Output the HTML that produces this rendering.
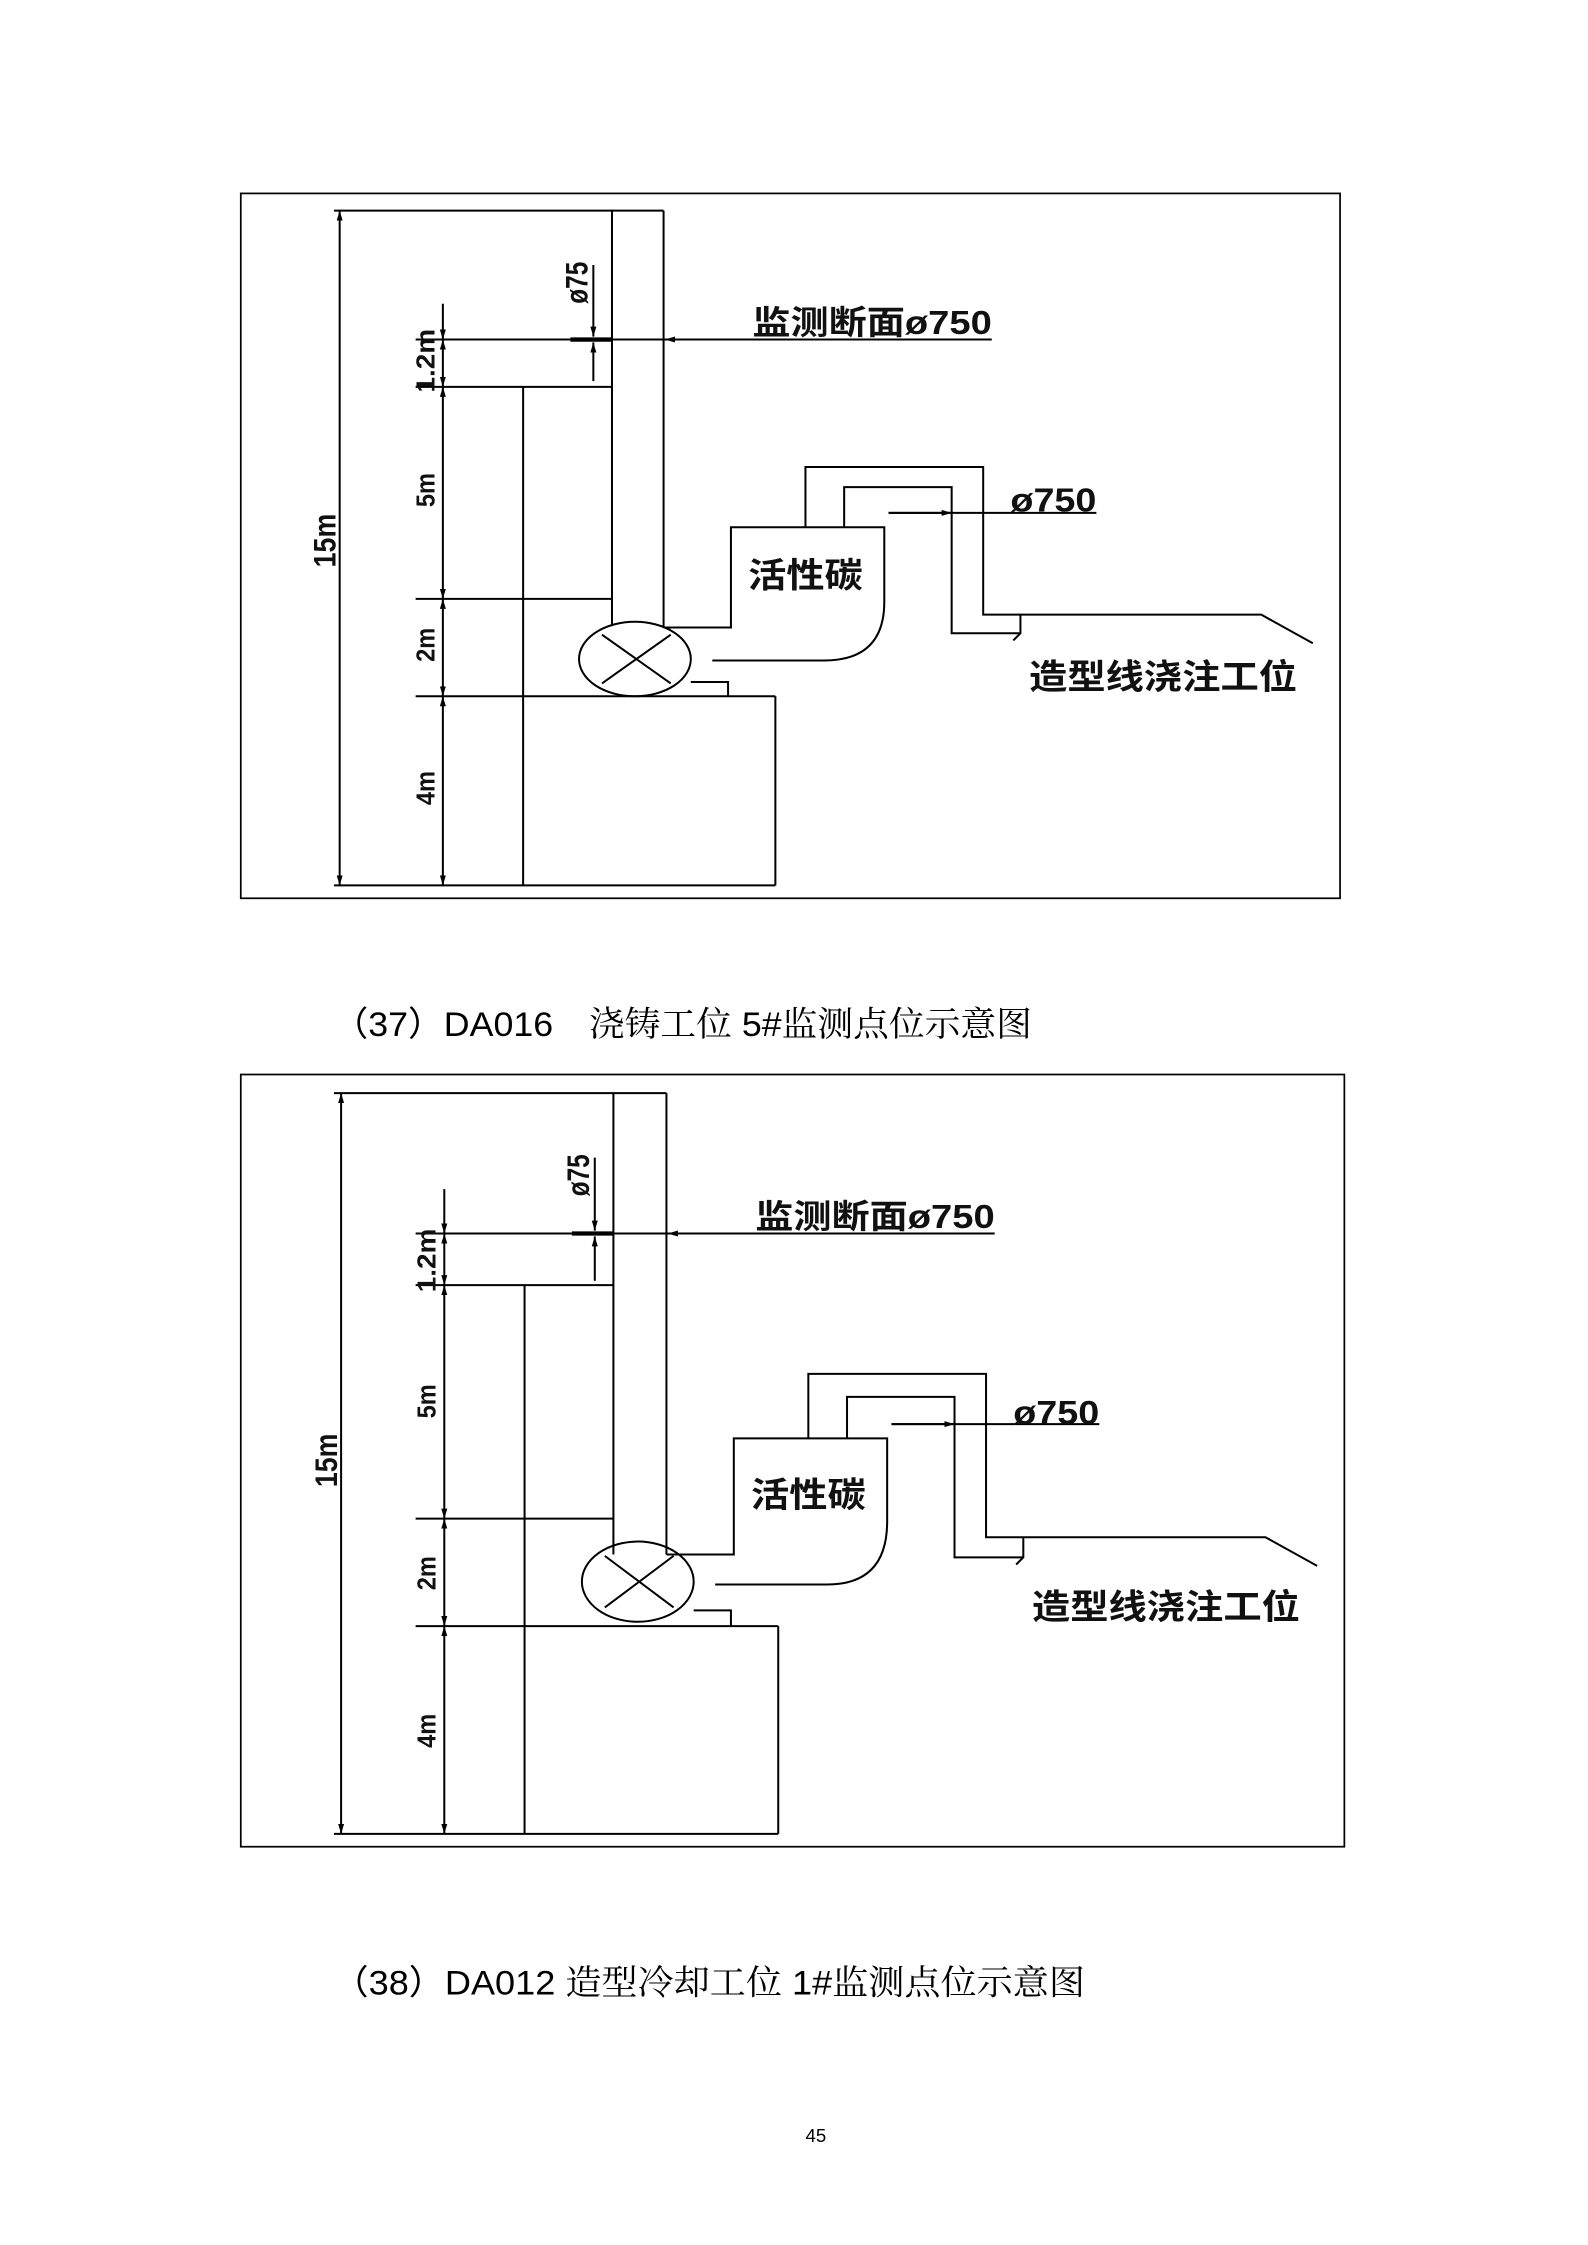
<!DOCTYPE html>
<html><head><meta charset="utf-8"><style>
html,body{margin:0;padding:0;background:#fff}
svg{display:block}
.l{stroke:#000;stroke-width:1.4;fill:none}
.f{stroke:#000;stroke-width:1.2;fill:none}
.b{font-family:"Liberation Sans","Noto Sans CJK SC",sans-serif;font-weight:bold;fill:#111}
.c{font-family:"Liberation Sans","Noto Sans CJK SC",sans-serif;fill:#000}
.cs{font-family:"Liberation Serif","Noto Serif CJK SC",serif;fill:#000}
</style></head><body>
<svg width="1588" height="2245" viewBox="0 0 1108 1567" preserveAspectRatio="none" xmlns="http://www.w3.org/2000/svg">
<defs>
<marker id="a" viewBox="0 0 10 10" refX="10" refY="5" markerWidth="7" markerHeight="7" orient="auto-start-reverse" markerUnits="userSpaceOnUse"><path d="M0,2 L10,5 L0,8 z" fill="#000"/></marker>
</defs>

<!-- Diagram 1 -->
<g>
<rect x="168" y="135" width="767" height="492" class="f"/>
<line x1="233" y1="147" x2="463" y2="147" class="l"/>
<line x1="427" y1="147" x2="427" y2="437" class="l"/>
<line x1="463" y1="147" x2="463" y2="438" class="l"/>
<line x1="237" y1="147" x2="237" y2="618" class="l" marker-start="url(#a)" marker-end="url(#a)"/>
<line x1="309" y1="212" x2="309" y2="237" class="l" marker-end="url(#a)"/>
<line x1="309" y1="237" x2="309" y2="270" class="l" marker-start="url(#a)" marker-end="url(#a)"/>
<line x1="309" y1="270" x2="309" y2="418" class="l" marker-start="url(#a)" marker-end="url(#a)"/>
<line x1="309" y1="418" x2="309" y2="486" class="l" marker-start="url(#a)" marker-end="url(#a)"/>
<line x1="309" y1="486" x2="309" y2="618" class="l" marker-start="url(#a)" marker-end="url(#a)"/>
<line x1="290" y1="237" x2="692" y2="237" class="l"/>
<line x1="492" y1="237" x2="464" y2="237" class="l" marker-end="url(#a)"/>
<line x1="290" y1="270" x2="427" y2="270" class="l"/>
<line x1="290" y1="418" x2="427" y2="418" class="l"/>
<line x1="290" y1="486" x2="541" y2="486" class="l"/>
<line x1="233" y1="618" x2="541" y2="618" class="l"/>
<line x1="365" y1="270" x2="365" y2="618" class="l"/>
<line x1="541" y1="486" x2="541" y2="618" class="l"/>
<line x1="414" y1="185" x2="414" y2="235" class="l" marker-end="url(#a)"/>
<line x1="414" y1="266" x2="414" y2="239" class="l" marker-end="url(#a)"/>
<line x1="398" y1="237" x2="427" y2="237" stroke="#000" stroke-width="3"/>
<text class="b" font-size="17" transform="translate(410,212) rotate(-90) scale(1,1.3)">ø75</text>
<text class="b" font-size="15" transform="translate(303,274) rotate(-90) scale(1.3,1.2)">1.2m</text>
<text class="b" font-size="15" transform="translate(303,354) rotate(-90) scale(1.1,1.2)">5m</text>
<text class="b" font-size="15" transform="translate(303,462) rotate(-90) scale(1.1,1.2)">2m</text>
<text class="b" font-size="15" transform="translate(303,562) rotate(-90) scale(1.1,1.2)">4m</text>
<text class="b" font-size="17" transform="translate(234,396) rotate(-90) scale(1.1,1.3)">15m</text>
<ellipse cx="443" cy="460" rx="39" ry="26" class="l"/>
<line x1="420" y1="443" x2="468" y2="477" class="l" stroke-width="1"/>
<line x1="468" y1="443" x2="420" y2="477" class="l" stroke-width="1"/>
<path d="M463,438 L510,438 L510,368 L617,368 L617,420 Q617,461 575,461 L497,461" class="l"/>
<path d="M482,476 L508,476 L508,486" class="l"/>
<path d="M562,368 L562,326 L686,326 L686,429 L880,429 L916,449" class="l"/>
<path d="M589,368 L589,340 L664,340 L664,442 L712,442" class="l"/>
<path d="M712,429 L712,442 L707,447" class="l"/>
<line x1="620" y1="358" x2="765" y2="358" class="l"/>
<line x1="620" y1="358" x2="664" y2="358" class="l" marker-end="url(#a)"/>
<text class="b" font-size="23" x="525" y="233" textLength="167" lengthAdjust="spacingAndGlyphs">监测断面ø750</text>
<text class="b" font-size="23" x="705" y="357" textLength="60" lengthAdjust="spacingAndGlyphs">ø750</text>
<text class="b" font-size="24" x="522" y="410" textLength="80" lengthAdjust="spacingAndGlyphs">活性碳</text>
<text class="b" font-size="24" x="718" y="481" textLength="187" lengthAdjust="spacingAndGlyphs">造型线浇注工位</text>
</g>

<text class="c" font-size="24" x="232" y="723" textLength="488" lengthAdjust="spacingAndGlyphs">（37）DA016　<tspan class="cs">浇铸工位</tspan> 5#<tspan class="cs">监测点位示意图</tspan></text>

<!-- Diagram 2 -->
<g>
<rect x="168" y="750" width="770" height="539" class="f"/>
<line x1="233" y1="763" x2="465" y2="763" class="l"/>
<line x1="428" y1="763" x2="428" y2="1085" class="l"/>
<line x1="465" y1="763" x2="465" y2="1085" class="l"/>
<line x1="238" y1="763" x2="238" y2="1280" class="l" marker-start="url(#a)" marker-end="url(#a)"/>
<line x1="310" y1="830" x2="310" y2="861" class="l" marker-end="url(#a)"/>
<line x1="310" y1="861" x2="310" y2="897" class="l" marker-start="url(#a)" marker-end="url(#a)"/>
<line x1="310" y1="897" x2="310" y2="1060" class="l" marker-start="url(#a)" marker-end="url(#a)"/>
<line x1="310" y1="1060" x2="310" y2="1135" class="l" marker-start="url(#a)" marker-end="url(#a)"/>
<line x1="310" y1="1135" x2="310" y2="1280" class="l" marker-start="url(#a)" marker-end="url(#a)"/>
<line x1="290" y1="861" x2="694" y2="861" class="l"/>
<line x1="494" y1="861" x2="466" y2="861" class="l" marker-end="url(#a)"/>
<line x1="290" y1="897" x2="428" y2="897" class="l"/>
<line x1="290" y1="1060" x2="428" y2="1060" class="l"/>
<line x1="290" y1="1135" x2="543" y2="1135" class="l"/>
<line x1="233" y1="1280" x2="543" y2="1280" class="l"/>
<line x1="366" y1="897" x2="366" y2="1280" class="l"/>
<line x1="543" y1="1135" x2="543" y2="1280" class="l"/>
<line x1="415" y1="808" x2="415" y2="859" class="l" marker-end="url(#a)"/>
<line x1="415" y1="894" x2="415" y2="863" class="l" marker-end="url(#a)"/>
<line x1="399" y1="861" x2="428" y2="861" stroke="#000" stroke-width="3"/>
<text class="b" font-size="17" transform="translate(411,835) rotate(-90) scale(1,1.3)">ø75</text>
<text class="b" font-size="15" transform="translate(304,902) rotate(-90) scale(1.3,1.2)">1.2m</text>
<text class="b" font-size="15" transform="translate(304,990) rotate(-90) scale(1.1,1.2)">5m</text>
<text class="b" font-size="15" transform="translate(304,1110) rotate(-90) scale(1.1,1.2)">2m</text>
<text class="b" font-size="15" transform="translate(304,1220) rotate(-90) scale(1.1,1.2)">4m</text>
<text class="b" font-size="17" transform="translate(235,1038) rotate(-90) scale(1.1,1.3)">15m</text>
<ellipse cx="445" cy="1104" rx="39" ry="28" class="l"/>
<line x1="422" y1="1086" x2="470" y2="1122" class="l" stroke-width="1"/>
<line x1="470" y1="1086" x2="422" y2="1122" class="l" stroke-width="1"/>
<path d="M465,1085 L512,1085 L512,1004 L619,1004 L619,1062 Q619,1106 577,1106 L499,1106" class="l"/>
<path d="M484,1124 L510,1124 L510,1135" class="l"/>
<path d="M564,1004 L564,959 L688,959 L688,1073 L883,1073 L919,1093" class="l"/>
<path d="M591,1004 L591,975 L666,975 L666,1087 L714,1087" class="l"/>
<path d="M714,1073 L714,1087 L709,1092" class="l"/>
<line x1="622" y1="994" x2="767" y2="994" class="l"/>
<line x1="622" y1="994" x2="666" y2="994" class="l" marker-end="url(#a)"/>
<text class="b" font-size="23" x="527" y="857" textLength="167" lengthAdjust="spacingAndGlyphs">监测断面ø750</text>
<text class="b" font-size="23" x="707" y="994" textLength="60" lengthAdjust="spacingAndGlyphs">ø750</text>
<text class="b" font-size="24" x="524" y="1052" textLength="80" lengthAdjust="spacingAndGlyphs">活性碳</text>
<text class="b" font-size="24" x="720" y="1130" textLength="187" lengthAdjust="spacingAndGlyphs">造型线浇注工位</text>
</g>

<text class="c" font-size="24" x="232" y="1392" textLength="525" lengthAdjust="spacingAndGlyphs">（38）DA012 <tspan class="cs">造型冷却工位</tspan> 1#<tspan class="cs">监测点位示意图</tspan></text>

<text class="c" font-size="13" x="562" y="1495">45</text>
</svg>
</body></html>
